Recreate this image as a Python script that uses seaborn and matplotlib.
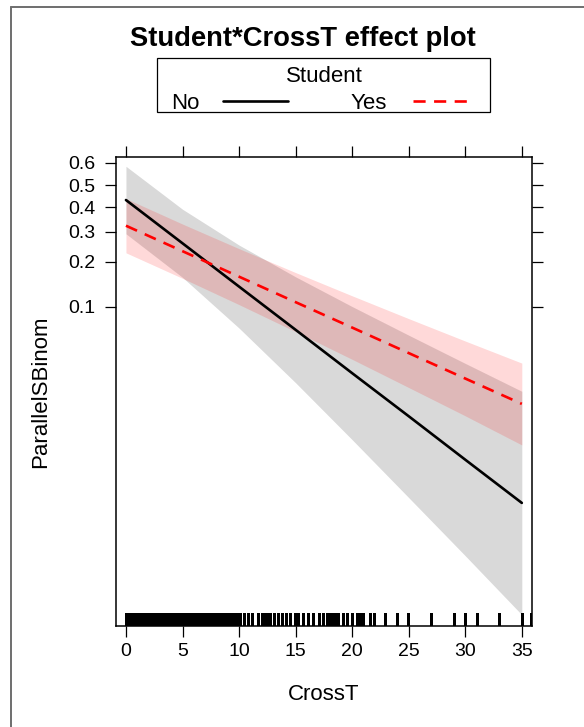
import matplotlib
matplotlib.use("Agg")
import matplotlib.pyplot as plt
import numpy as np
import pandas as pd
import seaborn as sns
from matplotlib.lines import Line2D
from matplotlib.patches import Rectangle
from matplotlib.ticker import FixedLocator, FixedFormatter, NullLocator

# effect estimates (probability scale)
CROSST = [0, 5, 10, 15, 20, 25, 30, 35]
NO_FIT = [0.4327, 0.2587, 0.1376, 0.0681, 0.0323, 0.0151, 0.00694, 0.00319]
NO_UPPER = [0.584, 0.3924, 0.2526, 0.1599, 0.1001, 0.0622, 0.0383, 0.0235]
NO_LOWER = [0.2930, 0.1586, 0.0701, 0.0273, 0.00993, 0.00351, 0.00123, 0.000424]
YES_FIT = [0.3241, 0.2323, 0.1603, 0.1075, 0.0707, 0.0458, 0.0294, 0.0188]
YES_UPPER = [0.4391, 0.3307, 0.2405, 0.1705, 0.1190, 0.0821, 0.0563, 0.0385]
YES_LOWER = [0.2271, 0.1563, 0.1033, 0.0660, 0.0411, 0.0251, 0.0152, 0.00904]

# observed CrossT values shown as a rug
RUG_CROSST = [
    0.0, 0.1, 0.2, 0.3, 0.4, 0.5, 0.6, 0.7, 0.8, 0.9, 1.0, 1.1, 1.2, 1.3, 1.4,
    1.5, 1.6, 1.7, 1.8, 1.9, 2.0, 2.1, 2.2, 2.3, 2.4, 2.5, 2.6, 2.7, 2.8, 2.9,
    3.0, 3.1, 3.2, 3.3, 3.4, 3.5, 3.6, 3.7, 3.8, 3.9, 4.0, 4.1, 4.2, 4.3, 4.4,
    4.5, 4.6, 4.7, 4.8, 4.9, 5.0, 5.1, 5.2, 5.3, 5.4, 5.5, 5.6, 5.7, 5.8, 5.9,
    6.0, 6.1, 6.2, 6.3, 6.4, 6.5, 6.6, 6.85, 7.1, 7.35, 7.6, 7.85, 8.1, 8.35,
    8.6, 8.85, 9.05, 9.28, 9.55, 9.81, 10.08, 10.46, 10.82, 11.17,
    11.64, 12.0, 12.23, 12.47, 12.73, 13.11, 13.47, 13.76, 14.12, 14.5, 14.94,
    15.18, 15.68, 16.12, 16.56, 17.06, 17.45, 17.75, 17.98, 18.21, 18.45,
    18.77, 19.16, 19.51, 19.96, 20.45, 20.63, 20.75, 20.93, 21.57, 21.93,
    22.93, 23.99, 24.96, 27.0, 29.0, 30.0, 31.0, 33.0, 34.98, 35.85,
]

Y_TICKS = [0.1, 0.2, 0.3, 0.4, 0.5, 0.6]
Y_TICK_LABELS = ["0.1", "0.2", "0.3", "0.4", "0.5", "0.6"]
X_TICKS = [0, 5, 10, 15, 20, 25, 30, 35]

W, H = 584, 727


def fx(px):
    return px / W


def fy(py):
    return 1 - py / H


sns.set_theme(style="white")
plt.rcParams["font.family"] = ["Liberation Sans", "DejaVu Sans"]
plt.rcParams.update({
    "text.color": "black",
    "axes.labelcolor": "black",
    "xtick.color": "black",
    "ytick.color": "black",
})

data = pd.DataFrame(
    {
        "CrossT": CROSST,
        "no_fit": NO_FIT, "no_lo": NO_LOWER, "no_hi": NO_UPPER,
        "yes_fit": YES_FIT, "yes_lo": YES_LOWER, "yes_hi": YES_UPPER,
    }
)

fig = plt.figure(figsize=(W / 100, H / 100), dpi=100)
ax = fig.add_axes([fx(116), fy(626), fx(532) - fx(116), fy(157) - fy(626)])
ax.set_yscale("logit")

ax.fill_between(data["CrossT"], data["no_lo"], data["no_hi"], color="black", alpha=0.15, lw=0)
ax.fill_between(data["CrossT"], data["yes_lo"], data["yes_hi"], color="red", alpha=0.15, lw=0)
sns.lineplot(data=data, x="CrossT", y="no_fit", color="black", lw=1.9, ax=ax)
sns.lineplot(data=data, x="CrossT", y="yes_fit", color="red", lw=1.9,
             linestyle=(0, (4.6, 3.2)), ax=ax)
sns.rugplot(x=RUG_CROSST, height=0.028, color="black", linewidth=1.0,
            antialiased=False, ax=ax)

ax.set_xlim(-0.88, 35.9)
ax.set_ylim(0.000346, 0.624)
ax.set_xticks(X_TICKS)
ax.set_xticklabels([str(t) for t in X_TICKS])
ax.yaxis.set_major_locator(FixedLocator(Y_TICKS))
ax.yaxis.set_major_formatter(FixedFormatter(Y_TICK_LABELS))
ax.yaxis.set_minor_locator(NullLocator())
ax.tick_params(axis="both", which="major", direction="out", length=8, width=0.9,
               color="black", labelcolor="black", labelsize=14, top=True, right=True,
               labeltop=False, labelright=False, bottom=True, left=True)
ax.tick_params(axis="x", pad=4)
ax.tick_params(axis="y", pad=7)
ax.set_xlabel("")
ax.set_ylabel("")
for side in ax.spines.values():
    side.set_visible(True)
    side.set_color("black")
    side.set_linewidth(1.1)

fig.text(fx(324), fy(700), "CrossT", ha="center", va="baseline", fontsize=16)
fig.text(fx(41), fy(392), "ParallelSBinom", ha="center", va="center", rotation=90, fontsize=16)

# title and legend key
fig.text(fx(303), fy(46), "Student*CrossT effect plot", ha="center", va="baseline",
         fontsize=19.7, fontweight="bold")
fig.add_artist(Rectangle((fx(157), fy(112)), fx(490) - fx(157), fy(58) - fy(112),
                         fill=False, edgecolor="black", lw=0.9, transform=fig.transFigure))
fig.text(fx(324), fy(82.5), "Student", ha="center", va="baseline", fontsize=16)
fig.text(fx(171), fy(109), "No", ha="left", va="baseline", fontsize=16)
fig.text(fx(351), fy(109), "Yes", ha="left", va="baseline", fontsize=16)
fig.add_artist(Line2D([fx(223), fx(288)], [fy(100.5), fy(100.5)], color="black", lw=1.9,
                      transform=fig.transFigure))
fig.add_artist(Line2D([fx(413), fx(473)], [fy(100.5), fy(100.5)], color="red", lw=1.9,
                      linestyle=(0, (4.6, 3.2)), transform=fig.transFigure))

# outer frame edges visible in the reference
fig.add_artist(Line2D([fx(11), fx(11)], [0, fy(7)], color="#6e6e6e", lw=1.4,
                      transform=fig.transFigure))
fig.add_artist(Line2D([fx(11), 1], [fy(7), fy(7)], color="#6e6e6e", lw=1.4,
                      transform=fig.transFigure))

fig.savefig("out.png", dpi=100)
